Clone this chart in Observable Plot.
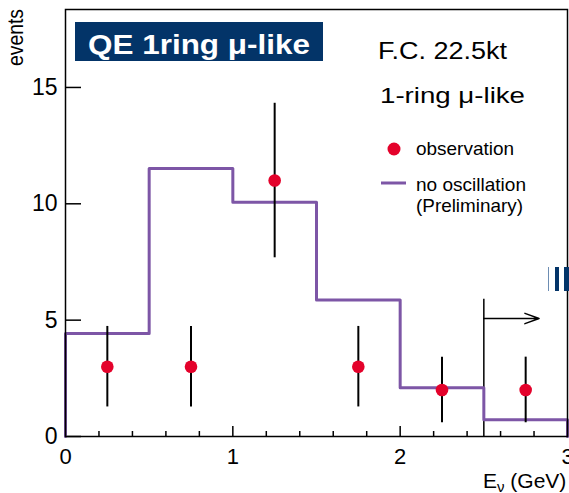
<!DOCTYPE html>
<html>
<head>
<meta charset="utf-8">
<script src="https://cdn.jsdelivr.net/npm/d3@7"></script>
<script src="https://cdn.jsdelivr.net/npm/@observablehq/plot@0.6"></script>
<style>
  html, body { margin: 0; padding: 0; background: #fff; }
  #chart { width: 569px; height: 493px; overflow: hidden; }
  #chart svg { display: block; }
</style>
</head>
<body>
<div id="chart"></div>
<script>
// Neutrino energy bins (GeV) and the expected spectrum without oscillation
const binEdges = [0, 0.5, 1, 1.5, 2, 2.5, 3];
const noOscillation = [4.43, 11.52, 10.07, 5.87, 2.09, 0.72];

// Observed events per bin with their statistical errors
const binCenters = [0.25, 0.75, 1.25, 1.75, 2.25, 2.75];
const observed = [3, 3, 11, 3, 2, 2];
const observedErr = [1.73, 1.73, 3.32, 1.73, 1.41, 1.41];

// Axis ticks
const yTicks = [0, 5, 10, 15];
const xTicks = [0, 1, 2, 3];
const xMinorTicks = [0.2, 0.4, 0.6, 0.8, 1.2, 1.4, 1.6, 1.8, 2.2, 2.4, 2.6, 2.8];

// Energy cut marker with its arrow
const cutMarker = [{x: 2.5, y1: 0, y2: 5.9}];
const cutArrow = [{x1: 2.5, x2: 2.83, y: 5.07}];

// Texts
const titleText = "QE 1ring μ-like";
const sampleText = "F.C. 22.5kt";
const selectionText = "1-ring μ-like";
const legendObserved = "observation";
const legendExpected = ["no oscillation", "(Preliminary)"];
const yLabel = "events";
const xLabel = ["E", "ν", " (GeV)"];

const RED = "#e4022b";
const PURPLE = "#7d56a6";
const NAVY = "#033468";
const FONT = "'Liberation Sans', Arial, Helvetica, sans-serif";

const W = 569, H = 493;
const M = {top: 9, right: 2, bottom: 57, left: 65};
const plotW = W - M.left - M.right;
const plotH = H - M.top - M.bottom;

// Step outline of the expected histogram, closed down to zero at both ends
const steps = [{x: binEdges[0], y: 0}]
  .concat(noOscillation.map((v, i) => ({x: binEdges[i], y: v})))
  .concat([{x: binEdges[binEdges.length - 1], y: noOscillation[noOscillation.length - 1]},
           {x: binEdges[binEdges.length - 1], y: 0}]);

const obs = binCenters.map((e, i) => ({e, n: observed[i], lo: observed[i] - observedErr[i], hi: observed[i] + observedErr[i]}));

const svg = Plot.plot({
  width: W,
  height: H,
  marginTop: M.top,
  marginRight: M.right,
  marginBottom: M.bottom,
  marginLeft: M.left,
  style: {fontFamily: FONT, background: "#fff", color: "#000"},
  x: {domain: [0, 3]},
  y: {domain: [0, 18.35]},
  marks: [
    Plot.axisY(yTicks, {tickSize: 0, tickPadding: 8, fontSize: 23, tickFormat: d => String(d), label: null}),
    Plot.axisX(xTicks, {tickSize: 0, tickPadding: 12, fontSize: 22, tickFormat: d => String(d), label: null}),
    Plot.tickY(yTicks, {y: d => d, insetRight: plotW - 16, stroke: "#000", strokeWidth: 1.5}),
    Plot.tickX(xTicks, {x: d => d, insetTop: plotH - 10, stroke: "#000", strokeWidth: 1.5}),
    Plot.tickX(xMinorTicks, {x: d => d, insetTop: plotH - 5, stroke: "#000", strokeWidth: 1.5}),
    Plot.ruleX(cutMarker, {x: "x", y1: "y1", y2: "y2", stroke: "#000", strokeWidth: 1.5}),
    Plot.arrow(cutArrow, {x1: "x1", x2: "x2", y1: "y", y2: "y", stroke: "#000", strokeWidth: 1.5, headLength: 15, headAngle: 40}),
    Plot.line(steps, {x: "x", y: "y", curve: "step-after", stroke: PURPLE, strokeWidth: 3}),
    Plot.ruleX(obs, {x: "e", y1: "lo", y2: "hi", stroke: "#000", strokeWidth: 2}),
    Plot.dot(obs, {x: "e", y: "n", r: 6.3, fill: RED, stroke: "none"}),
    Plot.frame({stroke: "#000", strokeWidth: 1.5})
  ]
});

document.getElementById("chart").append(svg);

// Annotation layer: title badge, sample description, legend and axis labels
const s = d3.select(svg);
const g = s.append("g").attr("font-family", FONT).attr("text-anchor", "start");

function label(text, x, y, size, len, opts = {}) {
  const t = g.append("text")
    .attr("x", x).attr("y", y)
    .attr("font-size", size)
    .attr("fill", opts.fill || "#000")
    .attr("font-weight", opts.weight || "normal")
    .text(text);
  if (len) t.attr("textLength", len).attr("lengthAdjust", "spacingAndGlyphs");
  return t;
}

g.append("rect").attr("x", 75).attr("y", 22).attr("width", 248).attr("height", 39).attr("fill", NAVY);
label(titleText, 88, 53.5, 28.5, 222, {fill: "#fff", weight: "bold"});

label(sampleText, 378, 58.5, 23.5, 129);
label(selectionText, 380, 102.5, 22.5, 145);

g.append("circle").attr("cx", 394).attr("cy", 149).attr("r", 6.5).attr("fill", RED);
label(legendObserved, 416, 155, 18.5, 98);
g.append("line").attr("x1", 381).attr("x2", 406).attr("y1", 183).attr("y2", 183)
  .attr("stroke", PURPLE).attr("stroke-width", 3);
label(legendExpected[0], 416, 190.5, 18.5, 110);
label(legendExpected[1], 416, 211.5, 18.5, 107);

g.append("text")
  .attr("transform", "translate(23,66) rotate(-90)")
  .attr("font-size", 22)
  .attr("textLength", 57).attr("lengthAdjust", "spacingAndGlyphs")
  .text(yLabel);

const xl = g.append("text").attr("x", 483).attr("y", 488).attr("font-size", 21);
xl.append("tspan").text(xLabel[0]);
xl.append("tspan").attr("dy", 4).attr("font-size", 15).text(xLabel[1]);
xl.append("tspan").attr("dy", -4).text(xLabel[2]);

// Edge of a neighbouring logo
g.append("rect").attr("x", 548).attr("y", 267).attr("width", 1).attr("height", 24).attr("fill", "#6d8db3");
g.append("rect").attr("x", 555).attr("y", 267).attr("width", 4).attr("height", 24).attr("fill", NAVY);
g.append("rect").attr("x", 564).attr("y", 267).attr("width", 5).attr("height", 24).attr("fill", NAVY);
</script>
</body>
</html>
